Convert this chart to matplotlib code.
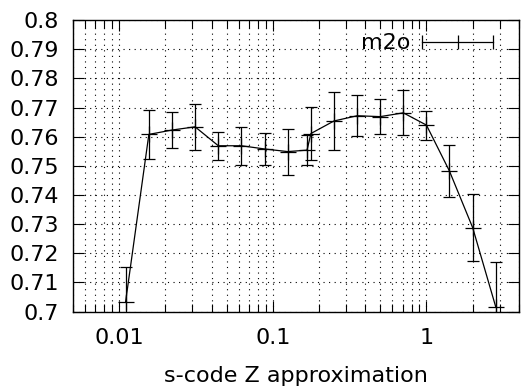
import numpy as np
import matplotlib
matplotlib.use('Agg')
import matplotlib.pyplot as plt
from matplotlib.ticker import LogLocator, FixedLocator, FuncFormatter, NullFormatter
from matplotlib.lines import Line2D

# s-code Z approximation vs m2o
z = [0.011, 0.0156, 0.0221, 0.0312, 0.0442, 0.0625, 0.0884, 0.125, 0.167,
     0.177, 0.25, 0.354, 0.5, 0.707, 1.0, 1.41, 2.0, 2.83]
m2o = [0.7032, 0.7608, 0.7623, 0.7634, 0.7569, 0.7569, 0.7558, 0.7549, 0.7554,
       0.7611, 0.7654, 0.7672, 0.7669, 0.7682, 0.764, 0.7483, 0.7288, 0.7015]
err = [0.012, 0.0083, 0.0063, 0.0078, 0.0048, 0.0066, 0.0055, 0.0079, 0.0051,
       0.0092, 0.010, 0.007, 0.006, 0.0077, 0.005, 0.009, 0.0116, 0.0156]

xticks = [0.01, 0.1, 1]
yticks = [0.70, 0.71, 0.72, 0.73, 0.74, 0.75, 0.76, 0.77, 0.78, 0.79, 0.80]

fs = 16
plt.rcParams['font.family'] = 'DejaVu Sans'
fig = plt.figure(figsize=(5.21, 3.88), dpi=100)
ax = fig.add_axes([0.140, 0.197, 0.856, 0.751])

ax.errorbar(z, m2o, yerr=err, color='black', lw=0.9, elinewidth=0.9,
            capsize=4, capthick=0.9, marker='+', ms=12, mew=0.9)

ax.set_xscale('log')
ax.set_xlim(0.005, 4)
ax.set_ylim(0.7, 0.8)
ax.xaxis.set_major_locator(FixedLocator(xticks))
ax.xaxis.set_major_formatter(FuncFormatter(lambda v, p: '%g' % v))
ax.xaxis.set_minor_locator(LogLocator(base=10, subs=np.arange(2, 10)))
ax.xaxis.set_minor_formatter(NullFormatter())
ax.set_yticks(yticks)
ax.yaxis.set_major_formatter(FuncFormatter(lambda v, p: '%g' % round(v, 2)))

ax.tick_params(which='both', direction='in', top=True, right=True,
               labelsize=fs, width=0.8)
ax.tick_params(which='major', length=8)
ax.tick_params(which='minor', length=6)
ax.tick_params(axis='x', which='major', pad=12)
ax.tick_params(axis='y', which='major', pad=10)
ax.grid(True, which='both', axis='x', color='black', lw=0.8, ls=(0, (1, 4)))
ax.grid(True, which='major', axis='y', color='black', lw=0.8, ls=(0, (1, 4)))
for s in ax.spines.values():
    s.set_linewidth(1.0)

ax.set_xlabel('s-code Z approximation', fontsize=fs, labelpad=13)

h = Line2D([], [], color='black', lw=0.9, marker='|', ms=10, mew=0.9)
ax.legend([h], ['m2o'], loc='center right', bbox_to_anchor=(0.957, 0.92),
          frameon=False, markerfirst=False, numpoints=3, handlelength=3.8,
          handletextpad=0.22, fontsize=fs, borderpad=0, borderaxespad=0)

fig.savefig('out.png', dpi=100)
